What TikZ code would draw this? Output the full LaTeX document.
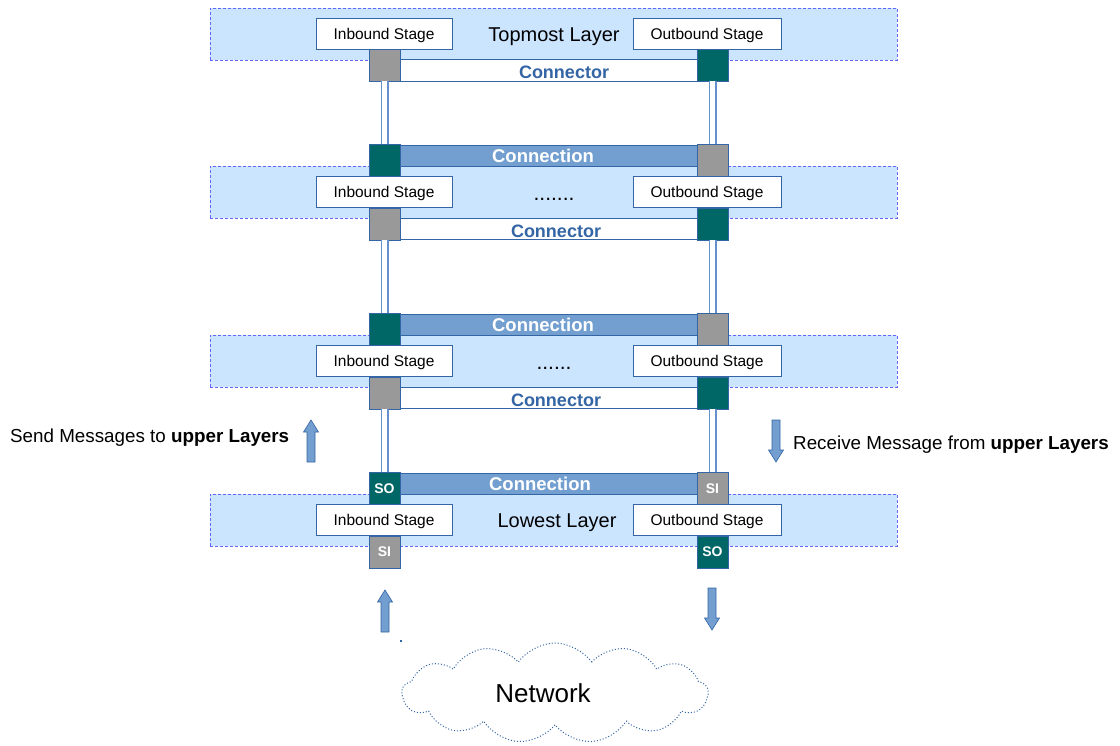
\documentclass[tikz,border=0pt]{standalone}
\usepackage{fontspec}
\setmainfont{Liberation Sans}
\usetikzlibrary{shapes.symbols}

\definecolor{layerfill}{RGB}{204,229,255}
\definecolor{layerdash}{RGB}{102,102,255}
\definecolor{edgeblue}{RGB}{52,101,164}
\definecolor{barblue}{RGB}{114,159,207}
\definecolor{linkblue}{RGB}{100,145,205}
\definecolor{tealbox}{RGB}{0,102,102}
\definecolor{graybox}{RGB}{153,153,153}

\tikzset{
  layer/.style={draw=layerdash, dash pattern=on 3pt off 2pt, line width=0.9pt, fill=layerfill,
    minimum width=687pt, minimum height=52pt, inner sep=0pt},
  stagebox/.style={draw=edgeblue, line width=0.8pt, fill=white, minimum height=31pt,
    inner sep=0pt, text depth=0pt, font=\fontsize{15.5}{18}\selectfont},
  inbox/.style={stagebox, minimum width=136pt},
  outbox/.style={stagebox, minimum width=148pt},
  port/.style={draw=edgeblue, line width=0.8pt, minimum width=31pt, minimum height=32pt,
    inner sep=0pt, text=white, font=\bfseries\fontsize{14}{16}\selectfont},
  tealport/.style={port, fill=tealbox},
  grayport/.style={port, fill=graybox},
  connectorbar/.style={draw=edgeblue, line width=0.8pt, fill=white,
    minimum width=359pt, minimum height=21.5pt, inner sep=0pt},
  connectionbar/.style={draw=edgeblue, line width=0.8pt, fill=barblue,
    minimum width=359pt, minimum height=21pt, inner sep=0pt},
  connectortext/.style={text=edgeblue, font=\bfseries\fontsize{18}{20}\selectfont,
    inner sep=0pt},
  connectiontext/.style={text=white, font=\bfseries\fontsize{18.5}{20}\selectfont,
    inner sep=0pt},
  layertext/.style={font=\fontsize{20}{24}\selectfont, inner sep=0pt, text depth=0pt},
  dotstext/.style={font=\fontsize{21}{24}\selectfont, inner sep=0pt},
  sidetext/.style={font=\fontsize{18.8}{22}\selectfont, inner sep=0pt, text depth=0pt},
  link/.style={draw=linkblue, line width=1.5pt, double=white, double distance=5pt},
  arrowbody/.style={fill=barblue, draw=edgeblue, line width=0.6pt},
  blockarrow/.pic={\filldraw[arrowbody] (-4,0) -- (-4,-30) -- (-7.5,-30) -- (0,-42)
    -- (7.5,-30) -- (4,-30) -- (4,0) -- cycle;},
}

\begin{document}
\begin{tikzpicture}[x=1pt, y=-1pt]
\useasboundingbox (0,0) rectangle (1120,746);

% layer bands
\node[layer] (L1) at (553.5,34) {};
\node[layer] (L2) at (553.5,192) {};
\node[layer] (L3) at (553.5,361) {};
\node[layer] (L4) at (553.5,520) {};

% connector bars between the layers
\node[connectorbar] (cr1) at (548.5,70.5) {};
\node[connectorbar] (cr2) at (548.5,229) {};
\node[connectorbar] (cr3) at (548.5,398) {};
\node[connectortext] (crt1) at (564,72.5) {Connector};
\node[connectortext] (crt2) at (556,231.5) {Connector};
\node[connectortext] (crt3) at (556,400.5) {Connector};

% connection bars
\node[connectionbar] (cn2) at (548.5,155.5) {};
\node[connectionbar] (cn3) at (548.5,324.5) {};
\node[connectionbar] (cn4) at (548.5,483.5) {};
\node[connectiontext] (cnt2) at (543,156) {Connection};
\node[connectiontext] (cnt3) at (543,325) {Connection};
\node[connectiontext] (cnt4) at (540,484) {Connection};

% stages
\node[inbox]  (in1)  at (384,33.5) {Inbound Stage};
\node[outbox] (out1) at (707,33.5) {Outbound Stage};
\node[inbox]  (in2)  at (384,192) {Inbound Stage};
\node[outbox] (out2) at (707,192) {Outbound Stage};
\node[inbox]  (in3)  at (384,361) {Inbound Stage};
\node[outbox] (out3) at (707,361) {Outbound Stage};
\node[inbox]  (in4)  at (384,520) {Inbound Stage};
\node[outbox] (out4) at (707,520) {Outbound Stage};

% layer captions
\node[layertext] (top) at (554,35) {Topmost Layer};
\node[dotstext] (dots2) at (554,199) {.......};
\node[dotstext] (dots3) at (554,368) {......};
\node[layertext] (low) at (557,521) {Lowest Layer};

% ports
\node[grayport] (a1) at (384.5,65) {};
\node[tealport] (b1) at (712.5,65) {};
\node[tealport] (a2u) at (384.5,160.5) {};
\node[grayport] (b2u) at (712.5,160.5) {};
\node[grayport] (a2) at (384.5,224) {};
\node[tealport] (b2) at (712.5,224) {};
\node[tealport] (a3u) at (384.5,329.5) {};
\node[grayport] (b3u) at (712.5,329.5) {};
\node[grayport] (a3) at (384.5,393) {};
\node[tealport] (b3) at (712.5,393) {};
\node[tealport] (a4u) at (384.5,488.5) {SO};
\node[grayport] (b4u) at (712.5,488.5) {SI};
\node[grayport] (a4) at (384.5,552) {SI};
\node[tealport] (b4) at (712.5,552) {SO};

% links between layers
\draw[link] (a1.south) -- (a2u.north);
\draw[link] (b1.south) -- (b2u.north);
\draw[link] (a2.south) -- (a3u.north);
\draw[link] (b2.south) -- (b3u.north);
\draw[link] (a3.south) -- (a4u.north);
\draw[link] (b3.south) -- (b4u.north);

% message direction arrows
\pic at (311,462) {blockarrow};
\pic[rotate=180] at (776,420) {blockarrow};
\pic at (385,632) {blockarrow};
\pic[rotate=180] at (712,588) {blockarrow};
\fill[edgeblue] (400,640) rectangle (402,642);

\node[sidetext, anchor=west] (send) at (10,436) {Send Messages to \textbf{upper Layers}};
\node[sidetext, anchor=west] (recv) at (793,443) {Receive Message from \textbf{upper Layers}};

% network
\node[cloud, cloud puffs=13, cloud puff arc=110, aspect=3, draw=edgeblue, dotted,
  line width=1pt, minimum width=306pt, minimum height=100pt, inner sep=0pt]
  (net) at (555,693) {};
\node[font=\fontsize{26}{30}\selectfont, inner sep=0pt] (netlabel) at (543,693) {Network};
\end{tikzpicture}
\end{document}
